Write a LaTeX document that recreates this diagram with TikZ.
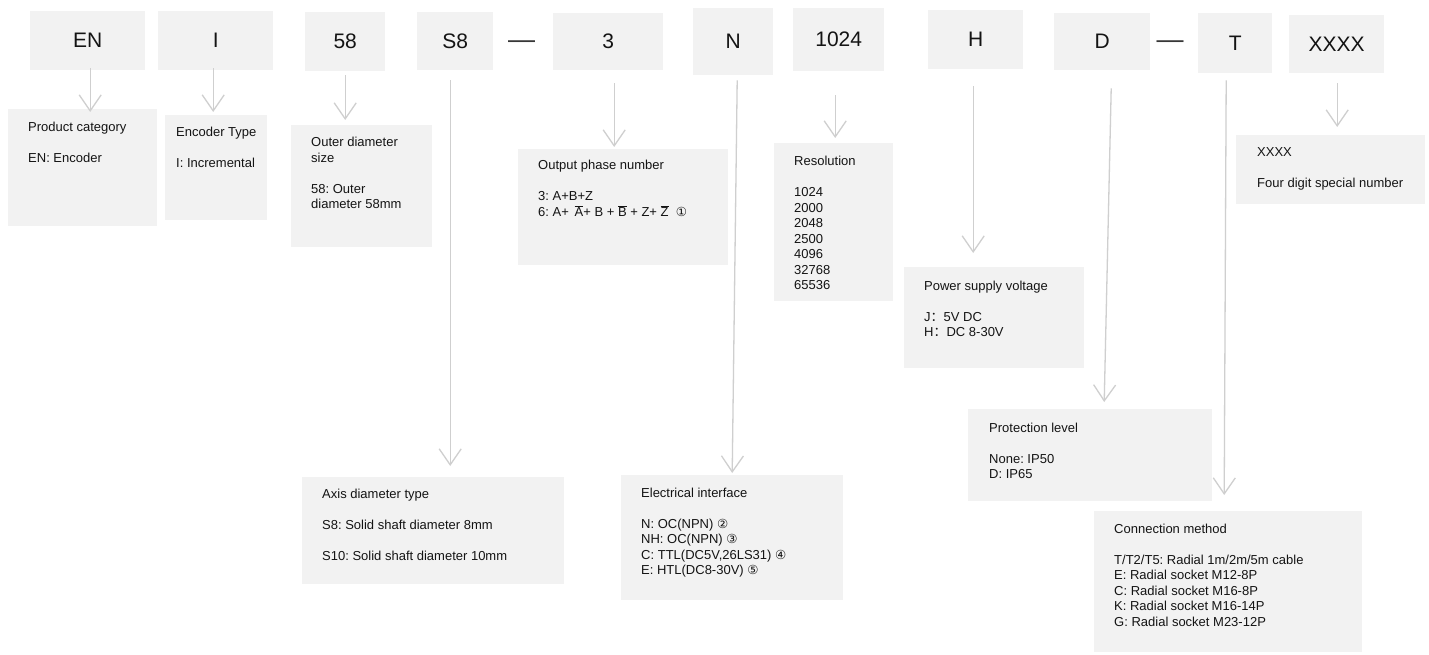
\documentclass[tikz,border=0pt]{standalone}
\usepackage{fontspec}
\setmainfont{Liberation Sans}
\newfontfamily\dejavu{DejaVu Sans}
\newfontfamily\cjkfont{Noto Sans CJK SC}
\usetikzlibrary{arrows.meta,calc}
\frenchspacing
\definecolor{boxgray}{HTML}{F2F2F2}
\definecolor{arrgray}{HTML}{CFCFCF}
\definecolor{txt}{HTML}{141414}
\newcommand{\ovl}[1]{$\overline{\mbox{#1}}$}
\newcommand{\circnum}[1]{{\dejavu\fontsize{12.5}{15.5}\selectfont #1}}
\newcommand{\desclines}[1]{\begin{tabular}[t]{@{}l@{}}#1\end{tabular}}
\newcommand{\mkcode}[6]{\node[codebox,anchor=north west,minimum width={#4-#2},minimum height={#5-#3}] (#1) at (#2,#3) {#6};}
\newcommand{\mkdesc}[5]{\node[descbox,anchor=north west,minimum width={#4-#2},minimum height={#5-#3}] (#1) at (#2,#3) {};}
\begin{document}
\begin{tikzpicture}[x=1pt,y=-1pt,
  codebox/.style={fill=boxgray, draw=none, inner sep=0pt, text=txt, font=\fontsize{21}{25}\selectfont},
  descbox/.style={fill=boxgray, draw=none, inner sep=0pt},
  desctext/.style={font=\fontsize{13}{15.5}\selectfont, text=txt, anchor=base west, inner sep=0pt},
  dashtext/.style={font=\fontsize{27}{30}\selectfont, text=txt!85, inner sep=0pt},
  conn/.style={draw=arrgray, line width=1.3pt, -{Straight Barb[length=16pt,width=22pt]}},
]
\useasboundingbox (0,0) rectangle (1429,655);
\fill[white] (0,0) rectangle (1429,655);

% code boxes
\mkcode{en}{30}{11}{145}{70}{EN}
\mkcode{ei}{158}{11}{273}{70}{I}
\mkcode{fe}{305}{12}{385}{71}{58}
\mkcode{se}{417}{12}{493}{70}{S8}
\mkcode{th}{553}{13}{663}{70}{3}
\mkcode{nn}{693}{8}{773}{75}{N}
\mkcode{re}{793}{8}{884}{71}{1024}
\mkcode{hh}{928}{10}{1023}{69}{H}
\mkcode{dd}{1054}{13}{1150}{70}{D}
\mkcode{tt}{1198}{13}{1272}{73}{T}
\mkcode{xc}{1289}{15}{1384}{73}{XXXX}
\node[dashtext] (dashA) at (521.5,45) {—};
\node[dashtext] (dashB) at (1170,45) {—};

% description boxes
\mkdesc{pc}{8}{109}{157}{226}
\mkdesc{et}{165}{115}{267}{220}
\mkdesc{od}{291}{125}{432}{247}
\mkdesc{op}{518}{149}{728}{265}
\mkdesc{rs}{774}{143}{893}{301}
\mkdesc{pw}{904}{267}{1084}{368}
\mkdesc{pr}{968}{409}{1212}{501}
\mkdesc{xd}{1236}{135}{1425}{204}
\mkdesc{ax}{302}{477}{564}{584}
\mkdesc{el}{621}{475}{843}{600}
\mkdesc{cm}{1094}{511}{1362}{652}

% description texts
\node[desctext] (pct) at (28,132) {\desclines{Product category\\[15.5pt]EN: Encoder}};
\node[desctext] (ett) at (176,137) {\desclines{Encoder Type\\[15.5pt]I: Incremental}};
\node[desctext] (odt) at (311,147) {\desclines{Outer diameter\\size\\[15.5pt]58: Outer\\diameter 58mm}};
\node[desctext] (opt) at (538,170) {\desclines{Output phase number\\[15.5pt]3: A+B+Z\\6: A+ \,\ovl{A}+ B + \ovl{B} + Z+ \ovl{Z}\ \ \circnum{①}}};
\node[desctext] (rst) at (794,166) {\desclines{Resolution\\[15.5pt]1024\\2000\\2048\\2500\\4096\\32768\\65536}};
\node[desctext] (pwt) at (924,290) {\desclines{Power supply voltage\\[15.5pt]J{\cjkfont ：}5V DC\\H{\cjkfont ：}DC 8-30V}};
\node[desctext] (prt) at (989,432) {\desclines{Protection level\\[15.5pt]None: IP50\\D: IP65}};
\node[desctext] (xdt) at (1257,157) {\desclines{XXXX\\[15.5pt]Four digit special number}};
\node[desctext] (axt) at (322,498) {\desclines{Axis diameter type\\[15.5pt]S8: Solid shaft diameter 8mm\\[15.5pt]S10: Solid shaft diameter 10mm}};
\node[desctext] (elt) at (641,497) {\desclines{Electrical interface\\[15.5pt]N: OC(NPN) \circnum{②}\\NH: OC(NPN) \circnum{③}\\C: TTL(DC5V,26LS31) \circnum{④}\\E: HTL(DC8-30V) \circnum{⑤}}};
\node[desctext] (cmt) at (1114,533) {\desclines{Connection method\\[15.5pt]T/T2/T5: Radial 1m/2m/5m cable\\E: Radial socket M12-8P\\C: Radial socket M16-8P\\K: Radial socket M16-14P\\G: Radial socket M23-12P}};

% connectors
\draw[conn] ($(en.south)+(2.5,-2)$) -- ($(en.south |- pc.north)+(2.5,3)$);
\draw[conn] ($(ei.south)+(-2.5,-2)$) -- ($(ei.south |- et.north)+(-2.5,-3)$);
\draw[conn] ($(fe.south)+(0,4)$) -- ($(fe.south |- od.north)+(0,-5)$);
\draw[conn] ($(se.south)+(-5,10)$) -- ($(se.south |- ax.north)+(-5,-11)$);
\draw[conn] ($(th.south)+(6,13)$) -- ($(th.south |- op.north)+(6,-2)$);
\draw[conn] ($(nn.south)+(4,5)$) -- ($(nn.south |- el.north)+(-1,-2)$);
\draw[conn] ($(re.south)+(-3.5,24)$) -- ($(re.south |- rs.north)+(-3.5,-5)$);
\draw[conn] ($(hh.south)+(-2.5,17)$) -- ($(hh.south |- pw.north)+(-2.5,-14)$);
\draw[conn] ($(dd.south)+(9,18)$) -- ($(dd.south |- pr.north)+(2,-7)$);
\draw[conn] ($(tt.south)+(-9,7)$) -- ($(tt.south |- cm.north)+(-11,-16)$);
\draw[conn] ($(xc.south)+(0.5,10)$) -- ($(xc.south |- xd.north)+(0.5,-8)$);
\end{tikzpicture}
\end{document}
